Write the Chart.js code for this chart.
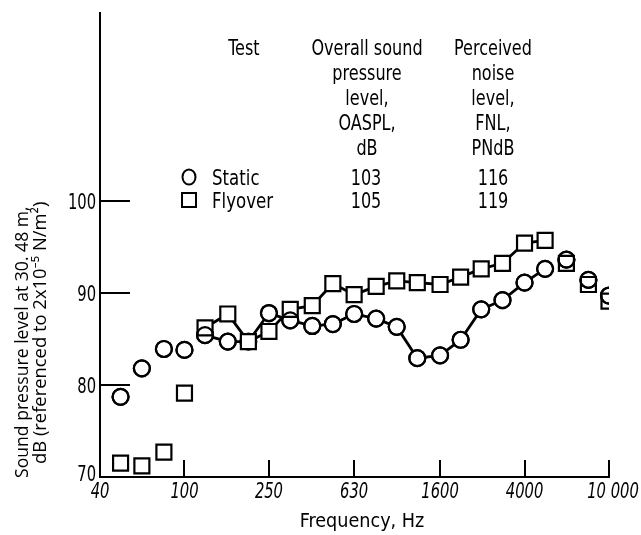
<!DOCTYPE html>
<html>
<head>
<meta charset="utf-8">
<script src="https://cdn.jsdelivr.net/npm/chart.js@4/dist/chart.umd.min.js"></script>
<style>
html,body{margin:0;padding:0;background:#fff;}
#wrap{width:641px;height:535px;position:relative;}
</style>
</head>
<body>
<div id="wrap"><canvas id="c" width="641" height="535"></canvas></div>
<script>
// ---- data ----
const frequencies = [50,63,80,100,125,160,200,250,315,400,500,630,800,1000,1250,1600,2000,2500,3150,4000,5000,6300,8000,10000];
const staticLevels = [78.7,81.8,83.9,83.8,85.4,84.7,84.7,87.8,87.0,86.4,86.6,87.7,87.2,86.3,82.9,83.2,84.9,88.2,89.2,91.1,92.6,93.6,91.4,89.7];
const flyoverLevels = [71.5,71.2,72.7,79.1,86.2,87.7,84.7,85.8,88.2,88.6,91.0,89.8,90.7,91.3,91.1,90.9,91.7,92.6,93.2,95.4,95.7,93.2,90.9,89.1];
const connectedRange = [125, 5000];
const xTickValues = [40,100,250,630,1600,4000,10000];
const xTickLabels = ['40','100','250','630','1600','4000','10 000'];
const yTickValues = [70,80,90,100];
const yTickMarks = [80,90,100];
const xTickMarks = [100,250,630,1600,4000,10000];
const legendRows = [
  {name:'Static', oaspl:'103', pnl:'116'},
  {name:'Flyover', oaspl:'105', pnl:'119'}
];
const headerTest = ['Test'];
const headerOaspl = ['Overall sound','pressure','level,','OASPL,','dB'];
const headerPnl = ['Perceived','noise','level,','FNL,','PNdB'];
const xTitle = 'Frequency, Hz';
const yTitle1 = 'Sound pressure level at 30. 48 m,';
const yTitle2 = 'dB (referenced to 2x10\u207B\u2075 N/m\u00B2)';

const COND = '"DejaVu Sans Condensed","DejaVu Sans",sans-serif';
const isConn = f => f >= connectedRange[0] && f <= connectedRange[1];
const pts = arr => frequencies.map((f,i)=>({x:f,y:arr[i]}));
const segColor = ctx => (isConn(frequencies[ctx.p0DataIndex]) && isConn(frequencies[ctx.p1DataIndex])) ? '#000' : 'rgba(0,0,0,0)';

const CIRCLE_R = 8, RECT_R = 10.6;

// draw text with horizontal compression (real canvas text)
function txt(ctx, s, x, y, font, k, align){
  ctx.save();
  ctx.font = font;
  ctx.textAlign = align || 'center';
  ctx.textBaseline = 'alphabetic';
  ctx.translate(x, y);
  ctx.scale(k, 1);
  ctx.fillText(s, 0, 0);
  ctx.restore();
}
function fitSize(ctx, s, family, target){
  ctx.save(); ctx.font = '20px ' + family; const w = ctx.measureText(s).width; ctx.restore();
  return 20 * target / w;
}

const decor = {
  id:'decor',
  afterDraw(chart){
    const ctx = chart.ctx, xs = chart.scales.x, ys = chart.scales.y;
    const L = chart.chartArea.left, B = chart.chartArea.bottom;
    ctx.save();
    ctx.strokeStyle = '#000'; ctx.fillStyle = '#000'; ctx.lineWidth = 2;
    yTickMarks.forEach(v=>{
      const y = Math.round(ys.getPixelForValue(v));
      ctx.beginPath(); ctx.moveTo(L, y); ctx.lineTo(L+30, y); ctx.stroke();
    });
    xTickMarks.forEach(v=>{
      const x = Math.round(xs.getPixelForValue(v));
      ctx.beginPath(); ctx.moveTo(x, B); ctx.lineTo(x, B-17); ctx.stroke();
    });
    // tick labels
    yTickValues.forEach(v=>{
      const y = ys.getPixelForValue(v);
      const yy = (v === 70) ? y + 4 : y + 8;
      txt(ctx, String(v), 96, yy, '21px ' + COND, 0.78, 'right');
    });
    xTickValues.forEach((v,i)=>{
      const x = xs.getPixelForValue(v);
      const dx = (v === 10000) ? 4 : 0;
      txt(ctx, xTickLabels[i], x + dx, 498, 'italic 21px ' + COND, 0.78, 'center');
    });
    // axis title
    txt(ctx, xTitle, 362, 527, '20px ' + COND, 0.98, 'center');
    // header table
    const HF = '21px ' + COND, HK = 0.85;
    headerTest.forEach((t,i)=>txt(ctx, t, 244, 55 + i*25, HF, HK, 'center'));
    headerOaspl.forEach((t,i)=>txt(ctx, t, 367, 55 + i*25, HF, HK, 'center'));
    headerPnl.forEach((t,i)=>txt(ctx, t, 493, 55 + i*25, HF, HK, 'center'));
    legendRows.forEach((r,i)=>{
      const base = 185 + i*23;
      txt(ctx, r.name, 212, base, HF, 0.88, 'left');
      txt(ctx, r.oaspl, 366, base, HF, HK, 'center');
      txt(ctx, r.pnl, 493, base, HF, HK, 'center');
      const cy = base - 8;
      ctx.lineWidth = 2;
      ctx.beginPath();
      if (i === 0) { ctx.ellipse(189, cy, 6.5, 7.5, 0, 0, Math.PI*2); }
      else { ctx.rect(182, cy-7, 14, 14); }
      ctx.stroke();
    });
    // y axis title (rotated)
    const YF = '"Open Sans","Noto Sans",sans-serif';
    const s1 = fitSize(ctx, yTitle1, YF, 272);
    const s2 = fitSize(ctx, yTitle2, YF, 262);
    ctx.textAlign = 'left'; ctx.textBaseline = 'alphabetic';
    ctx.save(); ctx.translate(28, 478); ctx.rotate(-Math.PI/2); ctx.font = s1.toFixed(1) + 'px ' + YF; ctx.fillText(yTitle1, 0, 0); ctx.restore();
    ctx.save(); ctx.translate(46, 464); ctx.rotate(-Math.PI/2); ctx.font = s2.toFixed(1) + 'px ' + YF; ctx.fillText(yTitle2, 0, 0); ctx.restore();
    ctx.restore();
  }
};

new Chart(document.getElementById('c'), {
  type:'scatter',
  data:{
    datasets:[
      { // static outlines on top
        data: pts(staticLevels), showLine:false,
        pointStyle:'circle',
        pointRadius: c => (staticLevels[c.dataIndex] === flyoverLevels[c.dataIndex] ? 0 : CIRCLE_R),
        pointBorderWidth:2.2, pointBorderColor:'#000', pointBackgroundColor:'rgba(0,0,0,0)'
      },
      {
        label:'Flyover', data: pts(flyoverLevels), showLine:true,
        borderColor:'#000', borderWidth:2.8, segment:{borderColor:segColor},
        pointStyle:'rect', pointRadius:RECT_R, pointBorderWidth:2.2, pointBorderColor:'#000',
        pointBackgroundColor: c => (frequencies[c.dataIndex] > connectedRange[1] ? 'rgba(0,0,0,0)' : '#fff')
      },
      {
        label:'Static', data: pts(staticLevels), showLine:true,
        borderColor:'#000', borderWidth:2.8, segment:{borderColor:segColor},
        pointStyle:'circle', pointRadius:CIRCLE_R, pointBorderWidth:2.2, pointBorderColor:'#000', pointBackgroundColor:'#fff'
      }
    ]
  },
  options:{
    responsive:false, animation:false, devicePixelRatio:1,
    layout:{padding:{left:0,right:32,top:10,bottom:0}},
    plugins:{legend:{display:false}, tooltip:{enabled:false}},
    scales:{
      x:{
        type:'logarithmic', min:40, max:10000,
        grid:{display:false},
        border:{display:true, color:'#000', width:2},
        afterBuildTicks: s => { s.ticks = xTickValues.map(v=>({value:v})); },
        afterFit: s => { s.height = 58; },
        ticks:{display:false}
      },
      y:{
        min:70, max:120.4,
        grid:{display:false},
        border:{display:true, color:'#000', width:2},
        afterBuildTicks: s => { s.ticks = yTickValues.map(v=>({value:v})); },
        afterFit: s => { s.width = 100; },
        ticks:{display:false}
      }
    }
  },
  plugins:[decor]
});
</script>
</body>
</html>
